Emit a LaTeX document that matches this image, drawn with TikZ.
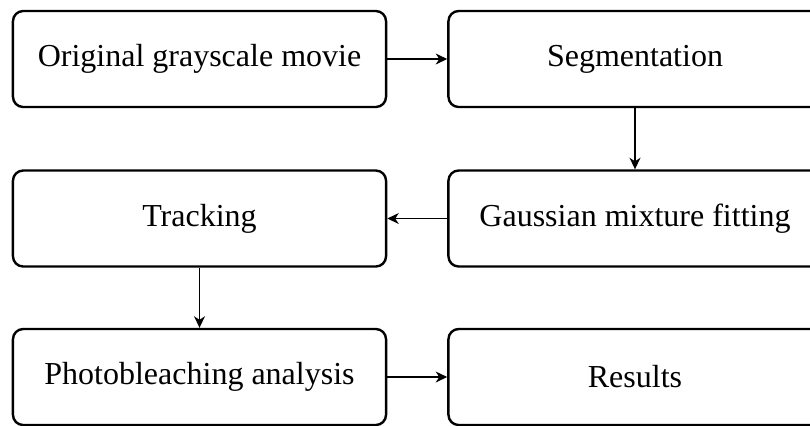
\documentclass[tikz,border=0pt]{standalone}
\usepackage{fontspec}
\setmainfont{Liberation Serif}
\usetikzlibrary{arrows.meta}

\begin{document}
\begin{tikzpicture}[x=0.3125pt,y=-0.3125pt,>={Stealth[length=3.6pt,width=3.4pt,inset=1.1pt]},
  stage/.style={draw,rounded corners=3.2pt,line width=0.75pt,minimum width=116.6pt,
    minimum height=30pt,inner sep=0pt,font=\fontsize{10pt}{12pt}\selectfont},
  flow/.style={->,line width=0.45pt}]
% ================ 画布 ================
\useasboundingbox (0,0) rectangle (810,425);
\clip (0,0) rectangle (810,425);
% ================ 处理步骤 ================
\node[stage] (movie) at (199.5,59) {Original grayscale movie};
\node[stage] (seg) at (635,59) {Segmentation};
\node[stage] (gmm) at (635,218.5) {Gaussian mixture fitting};
\node[stage] (track) at (199.5,218.5) {Tracking};
\node[stage] (bleach) at (199.5,377) {Photobleaching analysis};
\node[stage] (res) at (635,377) {Results};
% ================ 箭头 ================
\draw[flow] (movie) -- (seg);
\draw[flow] (seg) -- (gmm);
\draw[flow] (gmm) -- (track);
\draw[flow] (track) -- (bleach);
\draw[flow] (bleach) -- (res);
\end{tikzpicture}
\end{document}
